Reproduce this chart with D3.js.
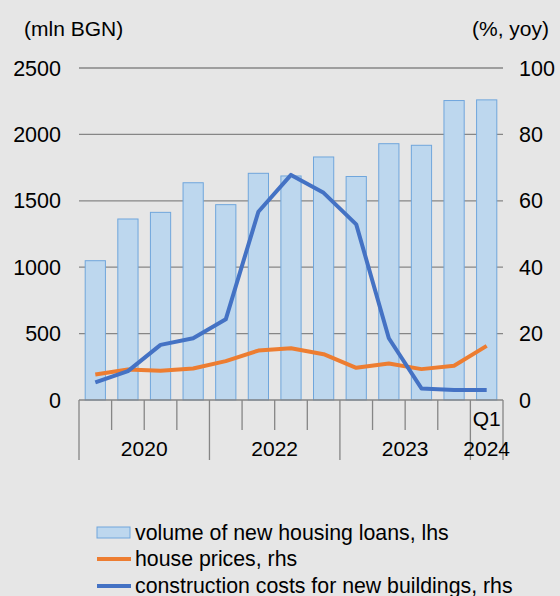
<html>
<head>
<script src="https://d3js.org/d3.v7.min.js"></script>
<style>
	body { margin: 0; background-color: #e6e6e6; }
	text { font-family: Arial, "Liberation Sans", sans-serif; fill: #000; }
</style>
</head>
<body>
<script>
	// data
	var quarters = ["", "", "", "", "", "", "", "", "", "", "", "", "Q1"];
	var years = ["2020", "2022", "2023", "2024"];
	var yearCounts = [4, 4, 4, 1];
	var loans = [1049, 1363, 1413, 1636, 1471, 1707, 1687, 1830, 1683, 1930, 1918, 2255, 2260];
	var housePrices = [7.7, 9.2, 8.8, 9.5, 11.7, 14.9, 15.6, 13.8, 9.7, 11.0, 9.3, 10.3, 16.3];
	var constrCosts = [5.3, 8.7, 16.6, 18.6, 24.3, 56.7, 67.8, 62.4, 52.9, 18.6, 3.5, 3.0, 3.0];
	var leftTicks = [0, 500, 1000, 1500, 2000, 2500];
	var rightTicks = [0, 20, 40, 60, 80, 100];

	var width = 560, height = 596;
	var pLeft = 79, pRight = 503, pTop = 68, pBottom = 400;
	var fs = 21;
	var idx = d3.range(loans.length);

	var svg = d3.select("body").append("svg")
		.attr("width", width).attr("height", height);
	svg.append("rect").attr("width", width).attr("height", height).attr("fill", "#e6e6e6");

	var x = d3.scaleBand().domain(idx).range([pLeft, pRight]).paddingInner(0.38).paddingOuter(0.19);
	var step = (pRight - pLeft) / idx.length;
	var yL = d3.scaleLinear().domain([0, 2500]).range([pBottom, pTop]);
	var yR = d3.scaleLinear().domain([0, 100]).range([pBottom, pTop]);

	// gridlines
	svg.selectAll(".grid").data(leftTicks.slice(1)).enter().append("line")
		.attr("x1", pLeft).attr("x2", pRight)
		.attr("y1", function(d){ return yL(d); }).attr("y2", function(d){ return yL(d); })
		.attr("stroke", "#868686").attr("stroke-width", 1.3);

	svg.selectAll(".lt").data(leftTicks).enter().append("text")
		.attr("x", 61).attr("y", function(d){ return yL(d) + 7.5; })
		.attr("text-anchor", "end").attr("font-size", 21.5)
		.text(function(d){ return d; });
	svg.selectAll(".rt").data(rightTicks).enter().append("text")
		.attr("x", 519).attr("y", function(d){ return yR(d) + 7.5; })
		.attr("font-size", 21.5)
		.text(function(d){ return d; });

	svg.append("text").attr("x", 24).attr("y", 36).attr("font-size", fs).text("(mln BGN)");
	svg.append("text").attr("x", 549).attr("y", 36).attr("font-size", fs).attr("text-anchor", "end").text("(%, yoy)");

	// bars
	svg.selectAll(".bar").data(loans).enter().append("rect")
		.attr("x", function(d, i){ return x(i); })
		.attr("y", function(d){ return yL(d); })
		.attr("width", x.bandwidth())
		.attr("height", function(d){ return pBottom - yL(d); })
		.attr("fill", "#bdd7ee").attr("stroke", "#70a6dc").attr("stroke-width", 1);

	// category axis
	svg.append("line").attr("x1", pLeft).attr("x2", pRight).attr("y1", pBottom).attr("y2", pBottom)
		.attr("stroke", "#868686").attr("stroke-width", 1.3);
	var bounds = [0];
	yearCounts.forEach(function(c){ bounds.push(bounds[bounds.length - 1] + c); });
	d3.range(idx.length + 1).forEach(function(i){
		var isYear = bounds.indexOf(i) >= 0;
		svg.append("line").attr("x1", pLeft + i * step).attr("x2", pLeft + i * step)
			.attr("y1", pBottom).attr("y2", isYear ? 460 : 430)
			.attr("stroke", "#868686").attr("stroke-width", 1.3);
	});
	svg.selectAll(".q").data(quarters).enter().append("text")
		.attr("x", function(d, i){ return x(i) + x.bandwidth() / 2; })
		.attr("y", 426).attr("text-anchor", "middle").attr("font-size", fs)
		.text(function(d){ return d; });
	svg.selectAll(".yr").data(years).enter().append("text")
		.attr("x", function(d, i){ return pLeft + (bounds[i] + bounds[i + 1]) / 2 * step; })
		.attr("y", 456).attr("text-anchor", "middle").attr("font-size", fs)
		.text(function(d){ return d; });

	// lines
	var line = d3.line()
		.x(function(d, i){ return x(i) + x.bandwidth() / 2; })
		.y(function(d){ return yR(d); });
	svg.append("path").datum(housePrices).attr("d", line)
		.attr("fill", "none").attr("stroke", "#ed7d31").attr("stroke-width", 4).attr("stroke-linejoin", "round");
	svg.append("path").datum(constrCosts).attr("d", line)
		.attr("fill", "none").attr("stroke", "#4472c4").attr("stroke-width", 4).attr("stroke-linejoin", "round");

	// legend
	var lg = svg.append("g");
	lg.append("rect").attr("x", 97).attr("y", 527).attr("width", 33).attr("height", 11)
		.attr("fill", "#bdd7ee").attr("stroke", "#70a6dc");
	lg.append("line").attr("x1", 97).attr("x2", 131).attr("y1", 559).attr("y2", 559)
		.attr("stroke", "#ed7d31").attr("stroke-width", 4);
	lg.append("line").attr("x1", 97).attr("x2", 131).attr("y1", 586).attr("y2", 586)
		.attr("stroke", "#4472c4").attr("stroke-width", 4);
	var labels = ["volume of new housing loans, lhs", "house prices, rhs", "construction costs for new buildings, rhs"];
	lg.selectAll("text").data(labels).enter().append("text")
		.attr("x", 135).attr("y", function(d, i){ return [540, 566, 593][i]; })
		.attr("font-size", 21.3).text(function(d){ return d; });
</script>
</body>
</html>
